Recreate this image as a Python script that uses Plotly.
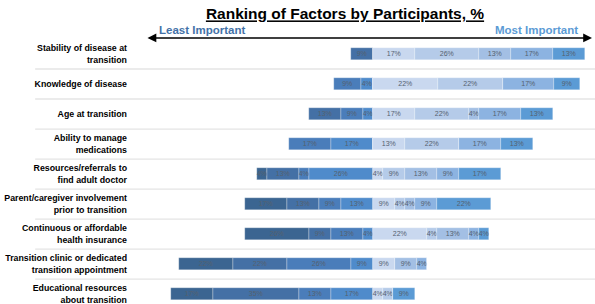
import plotly.graph_objects as go

factors = [
    "Stability of disease at<br>transition",
    "Knowledge of disease",
    "Age at transition",
    "Ability to manage<br>medications",
    "Resources/referrals to<br>find adult doctor",
    "Parent/caregiver involvement<br>prior to transition",
    "Continuous or affordable<br>health insurance",
    "Transition clinic or dedicated<br>transition appointment",
    "Educational resources<br>about transition",
]

# Percent of participants giving each rank (rank 9 = least important ... rank 1 = most important)
rank9 = [0, 0, 0, 0, 4, 17, 26, 22, 17]
rank8 = [9, 0, 13, 0, 13, 13, 9, 22, 35]
rank7 = [0, 9, 9, 17, 4, 9, 13, 26, 13]
rank6 = [0, 4, 4, 17, 26, 13, 4, 9, 17]
rank5 = [17, 22, 17, 13, 4, 9, 22, 9, 4]
rank4 = [26, 22, 22, 22, 9, 4, 4, 0, 4]
rank3 = [13, 0, 4, 0, 13, 4, 13, 9, 0]
rank2 = [17, 17, 17, 17, 9, 9, 4, 4, 0]
rank1 = [13, 9, 13, 13, 17, 22, 4, 0, 9]

# Percent base for bar length of each row (row 2 bars are drawn relative to its respondents)
row_base = [100, 83, 100, 100, 100, 100, 100, 100, 100]

left_series = [("Rank 6", rank6, "#4f8bcb"), ("Rank 7", rank7, "#4a7dba"),
               ("Rank 8", rank8, "#4470a5"), ("Rank 9", rank9, "#3b6591")]
right_series = [("Rank 5", rank5, "#c9d8ef"), ("Rank 4", rank4, "#b5cbe9"),
                ("Rank 3", rank3, "#a3bfe4"), ("Rank 2", rank2, "#8cb3e1"),
                ("Rank 1", rank1, "#5b9bd5")]

ypos = list(range(len(factors)))
fig = go.Figure()
TXT = dict(family="Liberation Sans Narrow, Arial, sans-serif", size=7, color="#55616f")

for sign, series in ((-1, left_series), (1, right_series)):
    for name, vals, col in series:
        xs = [sign * v * 100.0 / b for v, b in zip(vals, row_base)]
        fig.add_trace(go.Bar(
            y=ypos, x=xs, orientation="h", name=name,
            marker=dict(color=col, line=dict(color="rgba(255,255,255,0.5)", width=0.5)),
            width=0.42,
            text=[f"{v}%" if v else "" for v in vals],
            textposition="inside", insidetextanchor="middle", textangle=0,
            textfont=TXT, constraintext="none", hoverinfo="skip",
        ))

shapes = []
for i in range(len(factors) - 1):
    shapes.append(dict(type="line", xref="paper", yref="y", x0=-0.217, x1=1.0,
                       y0=i + 0.5, y1=i + 0.5, line=dict(color="#e4e4e4", width=1.3)))

annotations = [
    dict(xref="paper", yref="paper", x=0.9935, y=1.004, ax=-446, ay=0, text="",
         showarrow=True, arrowside="end+start", arrowhead=2, arrowsize=1.1,
         arrowwidth=1.6, arrowcolor="#000000", standoff=0, startstandoff=0),
    dict(xref="paper", yref="paper", x=(157 - 135) / 460, y=(304 - 30) / 265,
         xanchor="left", yanchor="middle", showarrow=False,
         text="<b>Least Important</b>",
         font=dict(family="Arial, Liberation Sans, sans-serif", size=11.5, color="#4472a8")),
    dict(xref="paper", yref="paper", x=(580 - 135) / 460, y=(304 - 30) / 265,
         xanchor="right", yanchor="middle", showarrow=False,
         text="<b>Most Important</b>",
         font=dict(family="Arial, Liberation Sans, sans-serif", size=11.5, color="#5b9bd5")),
]

fig.update_layout(
    width=595, height=304,
    margin=dict(l=135, r=0, t=39, b=0),
    barmode="relative", bargap=0,
    showlegend=False,
    plot_bgcolor="white", paper_bgcolor="white",
    title=dict(text="<b><u>Ranking of Factors by Participants, %</u></b>",
               xref="container", x=345 / 595, xanchor="center",
               yref="container", y=1 - 14 / 304, yanchor="middle",
               font=dict(family="Arial, Liberation Sans, sans-serif", size=15.5, color="#000000")),
    xaxis=dict(range=[-(373 - 135) / 2.46, (595 - 373) / 2.46], visible=False,
               fixedrange=True, automargin=False),
    yaxis=dict(range=[8.33, -0.5], tickmode="array", tickvals=ypos,
               ticktext=["<b>" + f.replace("<br>", "</b><br><b>") + "</b>" for f in factors],
               showgrid=False, zeroline=False, showline=False, ticks="",
               ticklabelstandoff=7, ticklabeloverflow="allow", automargin=False,
               tickfont=dict(family="Arial, Liberation Sans, sans-serif", size=8.8, color="#000000")),
    shapes=shapes,
    annotations=annotations,
    uniformtext=dict(minsize=7, mode="show"),
)

fig.write_html("out.html")
